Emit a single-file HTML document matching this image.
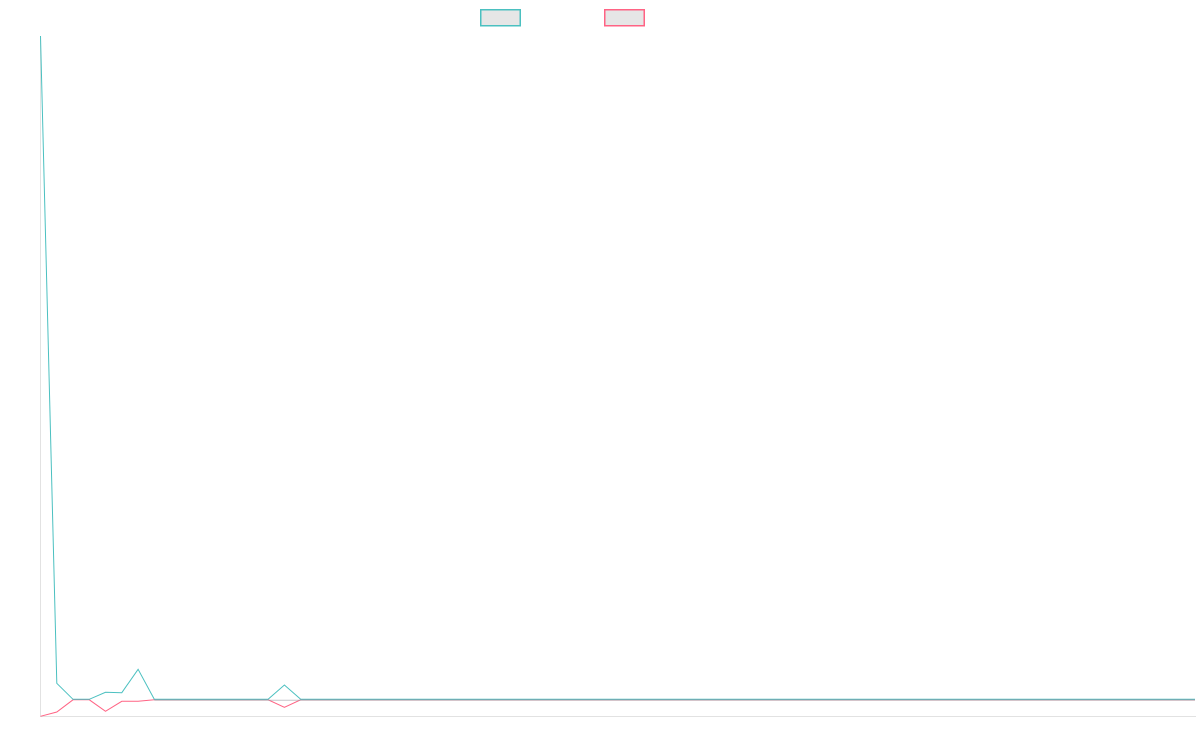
<!DOCTYPE html>
<html><head><meta charset="utf-8"><style>
html,body{margin:0;padding:0;background:#fff;}
svg{display:block;}
</style></head><body>
<svg width="1200" height="750" viewBox="0 0 1200 750" xmlns="http://www.w3.org/2000/svg">
<rect width="1200" height="750" fill="#fff"/>
<!-- legend -->
<rect x="480.75" y="9.75" width="39.5" height="16" fill="#e6e6e6" stroke="#4bc0c0" stroke-width="1.5"/>
<rect x="604.75" y="9.75" width="39.5" height="16" fill="#e6e6e6" stroke="#ff6384" stroke-width="1.5"/>
<!-- axes -->
<line x1="40.5" y1="36" x2="40.5" y2="716.5" stroke="#e2e2e2" stroke-width="1"/>
<line x1="40" y1="716.5" x2="1196" y2="716.5" stroke="#e2e2e2" stroke-width="1"/>
<!-- pink series -->
<polyline fill="none" stroke="#ff6384" stroke-width="1" points="40.5,716.3 56.8,712 73,699.8 89.3,699.8 105.5,711.3 121.8,701.3 138.1,701.3 154.3,699.8 268.1,699.8 284.4,707.3 300.7,699.8 1195,699.8"/>
<line x1="154.3" y1="700.2" x2="1195" y2="700.2" stroke="#a0a0a8" stroke-width="1" opacity="0.6"/>
<!-- teal series -->
<polyline fill="none" stroke="#4bc0c0" stroke-width="1" points="40.5,36 56.8,683.3 73,699.3 89.3,699.3 105.5,692.3 121.8,692.7 138.1,669.3 154.3,699.3 268.1,699.3 284.4,685 300.7,699.3 1195,699.3"/>
</svg>
</body></html>
